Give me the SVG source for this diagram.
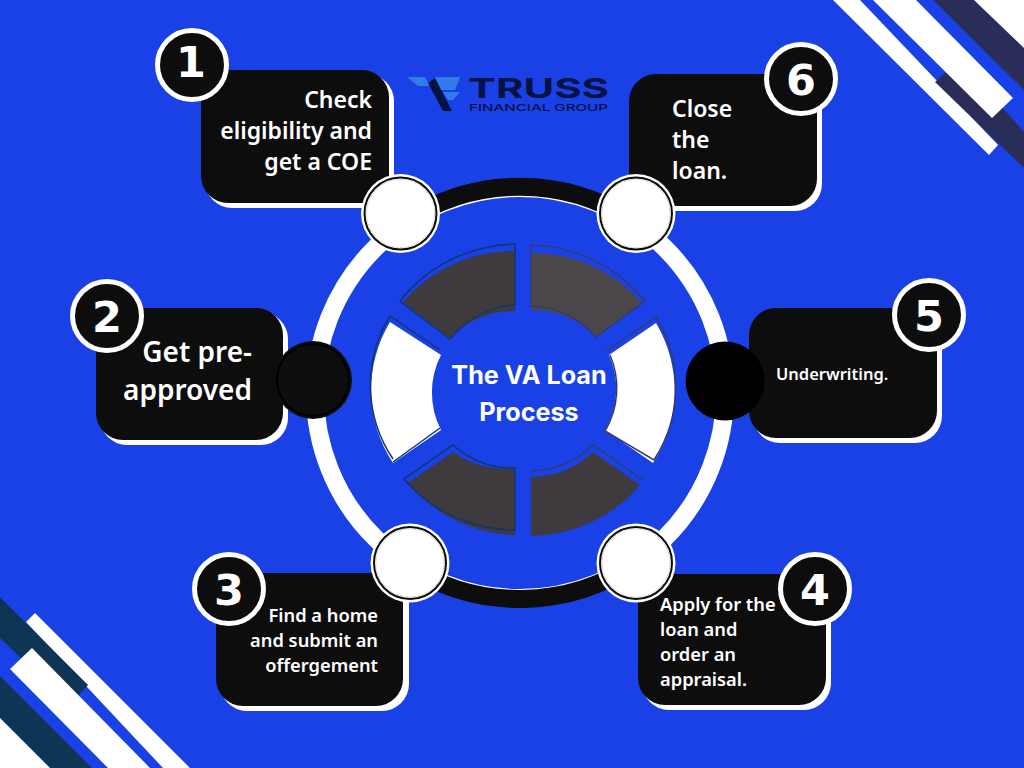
<svg xmlns="http://www.w3.org/2000/svg" width="1024" height="768" viewBox="0 0 1024 768">
<style>
.w{fill:#fff}.nv{fill:#2a2d57}.nt{fill:#0e3553}
.card{fill:#0d0d0d}.shadow{fill:#fff}
.t{font-family:"Noto Sans","Liberation Sans",sans-serif;font-weight:600;fill:#fff}
.num{font-family:"DejaVu Sans","Liberation Sans",sans-serif;font-weight:700;font-size:43px;fill:#fff;text-anchor:middle}
.badge{fill:#0d0d0d;stroke:#fff;stroke-width:5}
.dark{fill:#3f3a3e}
.ol{fill:none;stroke:#12356b;stroke-width:1.5}
.ring{fill:none;stroke-width:18}
.dot{fill:#fff;stroke:#0d0d0d;stroke-width:2}
.dots{fill:none;stroke:#aaa;stroke-width:1;stroke-dasharray:1 1.5}
</style>
<rect width="1024" height="768" fill="#1a41e6"/>
<g id="decor-top-right">
<polygon class="w" points="833,0 860,0 998,145 989,155"/>
<polygon class="nv" points="935,82 960,60 1024,132 1024,168"/>
<polygon class="w" points="873,0 916,0 1013,98 992,118"/>
<polygon class="nv" points="933,0 974,0 1024,48 1024,90"/>
<polygon class="w" points="974,0 1024,0 1024,48"/>
</g>
<g id="decor-bottom-left">
<polygon class="w" points="26,622 35,613 190,768 163,768"/>
<polygon class="nt" points="0,597 88,685 79,695 60,695 0,638"/>
<polygon class="w" points="10,669 32,648 150,768 108,768"/>
<polygon class="nt" points="0,676 92,768 50,768 0,718"/>
<polygon class="w" points="0,718 50,768 0,768"/>
</g>
<g id="logo">
<polygon fill="#2f7be8" points="407,77 425,77 430,86 418,86"/>
<polygon fill="#2f7be8" points="435,77 460,77 455,90 440,90"/>
<polygon fill="#2f7be8" points="443,92 460,92 453,100 448,100"/>
<polygon fill="#06123f" points="428,83 435,78 452,111 443,111"/>
<text x="468" y="98" font-family="Inter,'Liberation Sans',sans-serif" font-weight="700" font-size="27.5" fill="#06123f" textLength="141" lengthAdjust="spacingAndGlyphs">TRUSS</text>
<text x="469" y="111" font-family="Inter,'Liberation Sans',sans-serif" font-weight="500" font-size="9.5" fill="#06123f" textLength="139" lengthAdjust="spacingAndGlyphs">FINANCIAL GROUP</text>
</g>
<g id="connectors">
<circle class="ring" cx="520" cy="393" r="205" stroke="#fff"/>
<path class="ring" d="M406,221A206 206 0 0 1 632,220" stroke="#0d0d0d"/>
<path class="ring" d="M408,566A206 206 0 0 0 636,563" stroke="#0d0d0d"/>
</g>
<g id="hub">
<path class="dark" d="M515,251A145 145 0 0 0 403,302L450,338A88 88 0 0 1 515,311Z"/>
<path class="ol" d="M515,244A150 150 0 0 0 400,301L450,339A90 90 0 0 1 515,305Z"/>
<path fill="#4a4649" d="M531,253A145 145 0 0 1 642,303L596,337A88 88 0 0 0 531,310Z"/>
<path fill="none" stroke="#333a70" stroke-width="1.5" d="M531,245A150 150 0 0 1 645,301L596,337A88 88 0 0 0 531,306Z"/>
<path class="w" d="M393,463A132 132 0 0 1 390,322L441,355A82 82 0 0 0 441,430Z"/>
<path fill="none" stroke="#12356b" stroke-width="1.5" d="M393,459A132 132 0 0 1 390,316L440,350"/>
<path fill="none" stroke="#12356b" stroke-width="1.5" d="M393,462L440,428"/>
<path class="w" d="M656,323A132 132 0 0 1 653,463L605,430A82 82 0 0 0 609,355Z"/>
<path fill="none" stroke="#333a70" stroke-width="1.5" d="M606,351L656,317A134 134 0 0 1 654,460L605,431A84 84 0 0 0 610,355"/>
<path class="dark" d="M408,483L453,452A92 92 0 0 0 515,468V535A145 145 0 0 1 408,483Z"/>
<path class="ol" d="M515,530A145 145 0 0 1 404,479L453,445A90 90 0 0 0 515,468Z"/>
<path class="dark" d="M531,477A92 92 0 0 0 593,452L640,485A145 145 0 0 1 531,536Z"/>
<path fill="none" stroke="#333a70" stroke-width="1.5" d="M531,471A90 90 0 0 0 593,445L643,480"/>
<text class="t" x="529" y="384" text-anchor="middle" style="font-family:Inter,'Liberation Sans',sans-serif;font-weight:700;font-size:25.2px">The VA Loan</text>
<text class="t" x="529" y="421" text-anchor="middle" style="font-family:Inter,'Liberation Sans',sans-serif;font-weight:700;font-size:25.2px">Process</text>
</g>
<g id="step-1">
<rect class="shadow" x="205" y="74" width="189" height="134" rx="27"/>
<rect class="card" x="201" y="70" width="188" height="133" rx="27"/>
<text class="t" text-anchor="end" font-size="23"><tspan x="372" y="108">Check</tspan><tspan x="372" y="139">eligibility and</tspan><tspan x="372" y="170">get a COE</tspan></text>
<circle class="badge" cx="192" cy="65" r="34.5"/><text class="num" x="191" y="77">1</text>
<circle class="w" cx="400.500" cy="213.500" r="39.500"/><circle class="dot" cx="400.500" cy="213.500" r="36"/><circle class="dots" cx="400.500" cy="213.500" r="34"/>
</g>
<g id="step-6">
<rect class="shadow" x="633" y="78" width="189" height="133" rx="27"/>
<rect class="card" x="629" y="74" width="188" height="132" rx="27"/>
<text class="t" font-size="23"><tspan x="672" y="117">Close</tspan><tspan x="672" y="148">the</tspan><tspan x="672" y="179">loan.</tspan></text>
<circle class="badge" cx="801" cy="79" r="34.5"/><text class="num" x="801" y="95">6</text>
<circle class="w" cx="636" cy="213.500" r="39.500"/><circle class="dot" cx="636" cy="213.500" r="36"/><circle class="dots" cx="636" cy="213.500" r="34"/>
</g>
<g id="step-2">
<rect class="shadow" x="100" y="312" width="188" height="133" rx="27"/>
<rect class="card" x="96" y="308" width="187" height="132" rx="27"/>
<text class="t" text-anchor="end" font-size="28"><tspan x="252" y="362">Get pre-</tspan><tspan x="252" y="400">approved</tspan></text>
<circle class="badge" cx="107" cy="316" r="34.5"/><text class="num" x="107" y="332">2</text>
<circle fill="#0d0d0d" cx="313" cy="380" r="39"/><circle fill="none" stroke="#000" stroke-width="2" cx="313" cy="380" r="36"/>
</g>
<g id="step-5">
<rect class="shadow" x="753" y="312" width="189" height="131" rx="27"/>
<rect class="card" x="749" y="308" width="188" height="130" rx="27"/>
<text class="t" x="776" y="380" font-size="16.5">Underwriting.</text>
<circle class="badge" cx="929" cy="315" r="34.5"/><text class="num" x="929" y="331">5</text>
<circle fill="#000" cx="725" cy="381" r="39.500"/>
</g>
<g id="step-3">
<rect class="shadow" x="220" y="577" width="189" height="134" rx="27"/>
<rect class="card" x="216" y="573" width="187" height="133" rx="27"/>
<text class="t" text-anchor="end" font-size="18.3"><tspan x="378" y="622">Find a home</tspan><tspan x="378" y="647">and submit an</tspan><tspan x="378" y="672">offergement</tspan></text>
<circle class="badge" cx="229" cy="589" r="34.5"/><text class="num" x="229" y="605">3</text>
<circle class="w" cx="410" cy="563" r="39.500"/><circle class="dot" cx="410" cy="563" r="36"/><circle class="dots" cx="410" cy="563" r="34"/>
</g>
<g id="step-4">
<rect class="shadow" x="642" y="578" width="189" height="132" rx="27"/>
<rect class="card" x="638" y="574" width="188" height="131" rx="27"/>
<text class="t" font-size="18.3"><tspan x="660" y="611">Apply for the</tspan><tspan x="660" y="636">loan and</tspan><tspan x="660" y="661">order an</tspan><tspan x="660" y="686">appraisal.</tspan></text>
<circle class="badge" cx="815" cy="589" r="34.5"/><text class="num" x="815" y="605">4</text>
<circle class="w" cx="636" cy="563" r="39.500"/><circle class="dot" cx="636" cy="563" r="36"/><circle class="dots" cx="636" cy="563" r="34"/>
</g>
</svg>
